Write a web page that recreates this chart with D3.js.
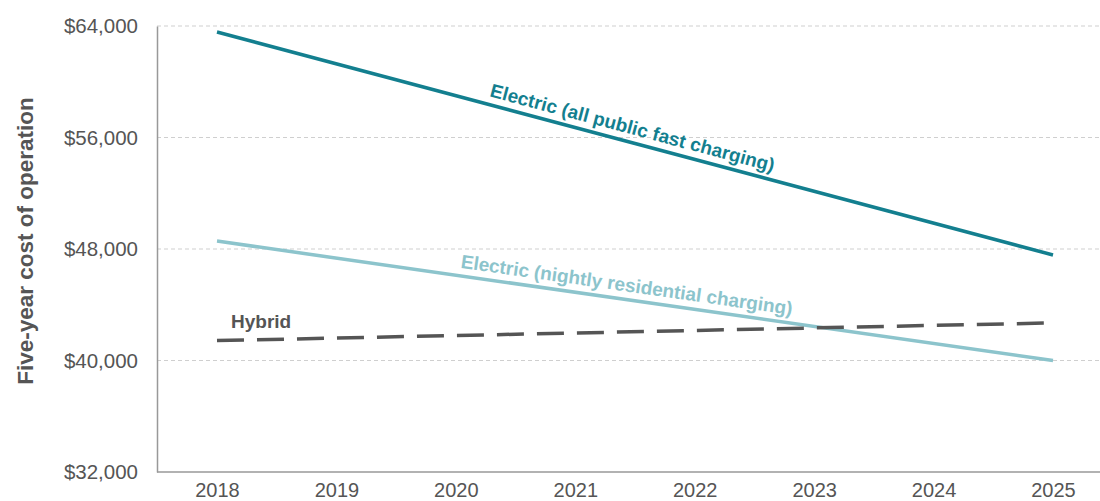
<!DOCTYPE html>
<html>
<head>
<meta charset="utf-8">
<script src="https://cdn.jsdelivr.net/npm/d3@7"></script>
<style>
  body { margin: 0; background: #fff; }
  text { font-family: "Liberation Sans", Arial, Helvetica, sans-serif; }
</style>
</head>
<body>
<div id="chart"></div>
<script>
// years and values
var years = [2018, 2025];
var fastCharging = [63570, 47570];
var residentialCharging = [48570, 40000];
var hybrid = [41430, 42700];
var yTicks = [32000, 40000, 48000, 56000, 64000];
var xTicks = [2018, 2019, 2020, 2021, 2022, 2023, 2024, 2025];

var width = 1100, height = 501;
var margin = {top: 26, right: 0, bottom: 29, left: 157};

var svg = d3.select("#chart").append("svg")
  .attr("width", width)
  .attr("height", height);

var x = d3.scaleLinear().domain([2018, 2025]).range([217, 1053]);
var y = d3.scaleLinear().domain([32000, 64000]).range([height - margin.bottom, margin.top]);

// gridlines
svg.append("g")
  .selectAll("line")
  .data(yTicks.slice(1))
  .enter().append("line")
  .attr("x1", margin.left).attr("x2", width)
  .attr("y1", function(d) { return y(d); })
  .attr("y2", function(d) { return y(d); })
  .attr("stroke", "#cfcfcf")
  .attr("stroke-dasharray", "4,3")
  .attr("stroke-width", 1);

// y axis
var yAxis = svg.append("g")
  .attr("transform", "translate(" + margin.left + ",0)")
  .call(d3.axisLeft(y).tickValues(yTicks).tickSize(0).tickPadding(19)
    .tickFormat(function(d) { return "$" + d3.format(",")(d); }));
yAxis.select(".domain").attr("stroke", "#999").attr("stroke-width", 1.5);
yAxis.selectAll("text").attr("fill", "#555").style("font-size", "20.5px");

// x axis
var xAxis = svg.append("g")
  .attr("transform", "translate(0," + y(32000) + ")")
  .call(d3.axisBottom(x).tickValues(xTicks).tickSize(0).tickPadding(11).tickFormat(d3.format("d")));
xAxis.select(".domain").attr("d", "M" + margin.left + ",0H" + width)
  .attr("stroke", "#999").attr("stroke-width", 1.5);
xAxis.selectAll("text").attr("fill", "#555").style("font-size", "20px");

// y title
svg.append("text")
  .attr("transform", "translate(33,241) rotate(-90)")
  .attr("text-anchor", "middle")
  .attr("fill", "#555")
  .style("font-size", "22.5px")
  .style("font-weight", "bold")
  .text("Five-year cost of operation");

var line = d3.line()
  .x(function(d, i) { return x(years[i]); })
  .y(function(d) { return y(d); });

svg.append("path").datum(residentialCharging)
  .attr("d", line).attr("fill", "none")
  .attr("stroke", "#8cc4cc").attr("stroke-width", 3.5);

svg.append("path").datum(hybrid)
  .attr("d", line).attr("fill", "none")
  .attr("stroke", "#555").attr("stroke-width", 3.5)
  .attr("stroke-dasharray", "27,13");

svg.append("path").datum(fastCharging)
  .attr("d", line).attr("fill", "none")
  .attr("stroke", "#137f8f").attr("stroke-width", 3.5);

// labels along lines
function lineLabel(vals, atX, offset, txt, color) {
  var x0 = x(years[0]), y0 = y(vals[0]), x1 = x(years[1]), y1 = y(vals[1]);
  var ang = Math.atan2(y1 - y0, x1 - x0) * 180 / Math.PI;
  var yy = y0 + (y1 - y0) * (atX - x0) / (x1 - x0);
  svg.append("text")
    .attr("transform", "translate(" + atX + "," + yy + ") rotate(" + ang + ") translate(0," + offset + ")")
    .attr("fill", color)
    .style("font-size", "19px")
    .style("font-weight", "bold")
    .text(txt);
}
lineLabel(fastCharging, 487, -8, "Electric (all public fast charging)", "#137f8f");
lineLabel(residentialCharging, 459, -8, "Electric (nightly residential charging)", "#8cc4cc");

svg.append("text")
  .attr("x", x(2018) + 14).attr("y", y(hybrid[0]) - 13)
  .attr("fill", "#555")
  .style("font-size", "19px")
  .style("font-weight", "bold")
  .text("Hybrid");
</script>
</body>
</html>
